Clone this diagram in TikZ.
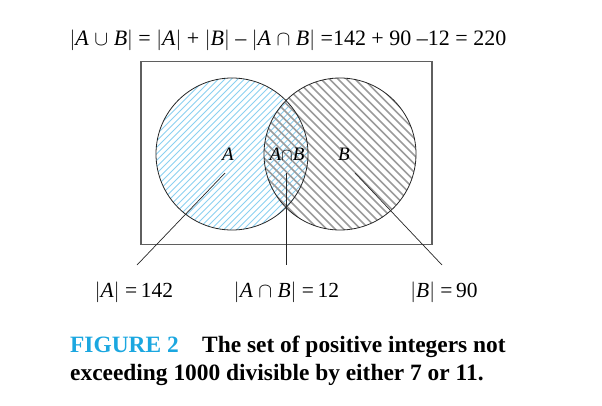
\documentclass[tikz,border=0pt]{standalone}
\usepackage{fontspec}
\setmainfont{Liberation Serif}
\definecolor{hatchblue}{RGB}{140,208,240}
\definecolor{hatchgray}{RGB}{155,155,155}
\definecolor{capblue}{RGB}{27,167,224}
\definecolor{boxgray}{RGB}{95,95,95}
\tikzset{
  leader/.style={draw=black!85, line width=0.7pt},
  circ/.style={draw=black!85, line width=0.8pt},
  inlab/.style={font=\fontsize{19}{19}\selectfont\itshape, inner sep=1pt},
  botlab/.style={font=\fontsize{21.5}{21.5}\selectfont, anchor=base},
}
\begin{document}
\begin{tikzpicture}[x=1pt,y=-1pt]
\useasboundingbox (0,0) rectangle (602,405);
% top equation
\node[anchor=base, font=\fontsize{22}{22}\selectfont] (eq) at (288,45)
  {$|$\textit{A} $\cup$ \textit{B}$|$ = $|$\textit{A}$|$ + $|$\textit{B}$|$ – $|$\textit{A} $\cap$ \textit{B}$|$ =142 + 90 –12 = 220};
% hatching A
\begin{scope}
  \clip (232,154) circle (76);
  \foreach \c in {0,6.5,...,480} {
    \draw[hatchblue, line width=1pt] (\c+70,0) -- (\c-230,300);
  }
\end{scope}
% hatching B
\begin{scope}
  \clip (340,154) circle (76);
  \foreach \c in {0,8.5,...,480} {
    \draw[hatchgray, line width=1.6pt] (\c-30,0) -- (\c+270,300);
  }
\end{scope}
% universe rectangle
\node[draw=boxgray, line width=1.2pt, minimum width=291pt, minimum height=183pt, inner sep=0pt] (U) at (286.5,153) {};
% circles
\node[circ, circle, minimum size=152pt, inner sep=0pt] (CA) at (232,154) {};
\node[circ, circle, minimum size=152pt, inner sep=0pt] (CB) at (340,154) {};
% inner labels
\node[inlab] (la) at (228,154) {A};
\node[inlab] (lb) at (344,154) {B};
\node[inlab] (lab) at (287,154) {A$\cap$B};
% leader start/end coordinates
\coordinate (sa) at (225,173);
\coordinate (ea) at (137,265);
\coordinate (sab) at (286,173);
\coordinate (eab) at (286,265);
\coordinate (sb) at (355,173);
\coordinate (eb) at (442,265);
\draw[leader] (sa) -- (ea);
\draw[leader] (sab) -- (eab);
\draw[leader] (sb) -- (eb);
% bottom labels
\node[botlab] (na) at (134,297) {$|$\textit{A}$|$ =\,142};
\node[botlab] (nab) at (286.5,297) {$|$\textit{A} $\cap$ \textit{B}$|$ =\,12};
\node[botlab] (nb) at (444,297) {$|$\textit{B}$|$ =\,90};
% caption
\node[anchor=base west, font=\fontsize{23.4}{27.5}\selectfont\bfseries, align=left, inner sep=0pt] (cap) at (70,380)
  {\textcolor{capblue}{FIGURE 2}\hspace{1em}The set of positive integers not\\exceeding 1000 divisible by either 7 or 11.};
\end{tikzpicture}
\end{document}
